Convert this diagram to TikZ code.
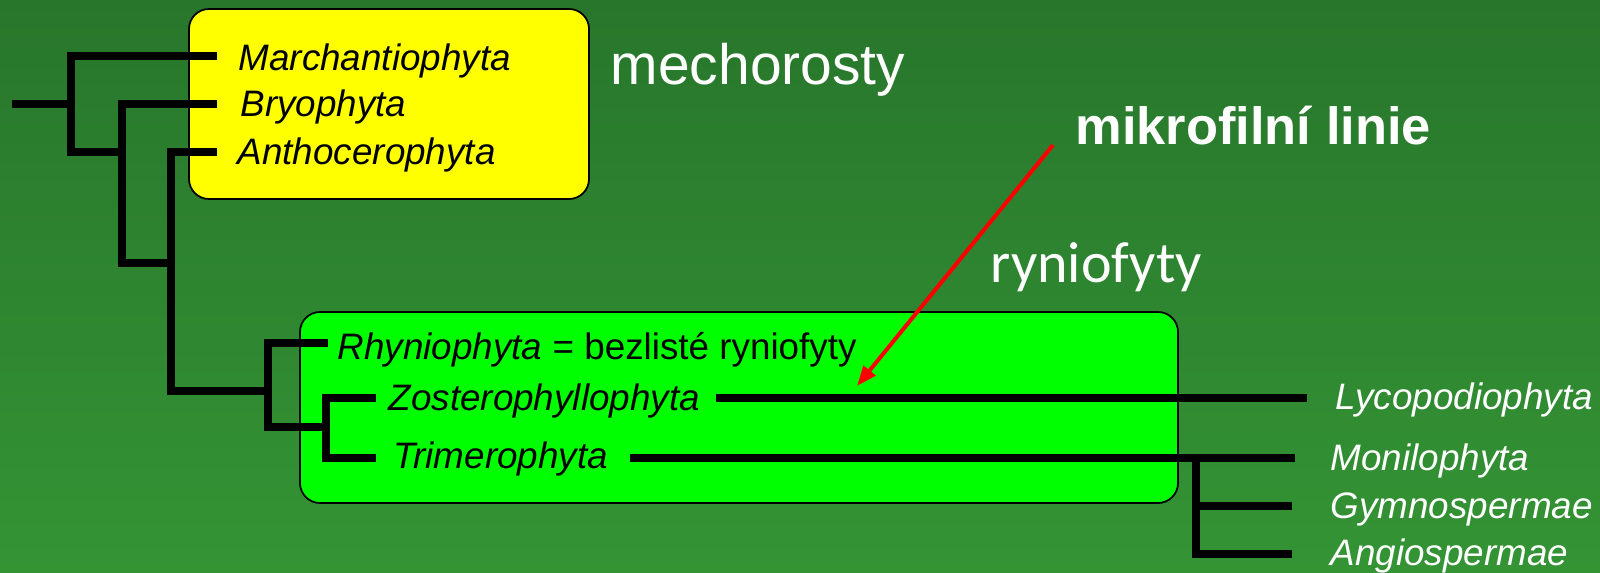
\documentclass[tikz,border=0pt]{standalone}
\usepackage{fontspec}
\setmainfont{Liberation Sans}
\newfontfamily\calibrifont{Carlito}
\usepackage{tikz}
\usetikzlibrary{arrows.meta}

\definecolor{bg_top}{RGB}{40,118,44}
\definecolor{bg_bottom}{RGB}{52,148,52}
\definecolor{moss_yellow}{RGB}{255,255,0}
\definecolor{rhynia_green}{RGB}{0,255,0}

\begin{document}
\begin{tikzpicture}[x=0.01cm, y=-0.01cm,
    taxon_node/.style={anchor=base west, inner sep=0pt, font=\fontsize{10.47}{12}\selectfont},
    side_node/.style={taxon_node, text=white, font=\fontsize{10.47}{12}\selectfont\itshape},
    group_box/.style={draw=black, line width=0.5pt, rounded corners=0.2cm},
    tree_line/.style={line width=0.075cm, line join=miter},
    red_arrow/.style={draw=red, line width=0.04cm, -{Triangle[length=0.2cm, width=0.15cm]}}]

    \useasboundingbox (0,0) rectangle (1600,573);
    \fill[top color=bg_top, bottom color=bg_bottom] (0,0) rectangle (1600,573);

    % boxes
    \filldraw[group_box, fill=moss_yellow] (189,9) rectangle (589,199);
    \filldraw[group_box, fill=rhynia_green] (300,312) rectangle (1178,503);

    % tree points
    \coordinate (1) at (12,104);
    \coordinate (2) at (71,104);
    \coordinate (3) at (71,56);
    \coordinate (4) at (217,56);
    \coordinate (5) at (71,152);
    \coordinate (6) at (122,152);
    \coordinate (7) at (122,104);
    \coordinate (8) at (217,104);
    \coordinate (9) at (122,263);
    \coordinate (10) at (171,263);
    \coordinate (11) at (171,152);
    \coordinate (12) at (217,152);
    \coordinate (13) at (171,391);
    \coordinate (14) at (268,391);
    \coordinate (15) at (268,343);
    \coordinate (16) at (328,343);
    \coordinate (17) at (268,427);
    \coordinate (18) at (326,427);
    \coordinate (19) at (326,398);
    \coordinate (20) at (376,398);
    \coordinate (21) at (326,458);
    \coordinate (22) at (376,458);
    \coordinate (23) at (716,398);
    \coordinate (24) at (1307,398);
    \coordinate (25) at (630,458);
    \coordinate (26) at (1295,458);
    \coordinate (27) at (1196,458);
    \coordinate (28) at (1196,554);
    \coordinate (29) at (1292,554);
    \coordinate (30) at (1196,506);
    \coordinate (31) at (1292,506);

    \node[taxon_node, font=\fontsize{10.47}{12}\selectfont\itshape] (32) at (238,71) {Marchantiophyta};
    \node[taxon_node, font=\fontsize{10.47}{12}\selectfont\itshape] (33) at (240,117) {Bryophyta};
    \node[taxon_node, font=\fontsize{10.47}{12}\selectfont\itshape] (34) at (237,165) {Anthocerophyta};
    \node[taxon_node] (35) at (337,359) {\textit{Rhyniophyta} = bezlisté ryniofyty};
    \node[taxon_node, font=\fontsize{10.47}{12}\selectfont\itshape] (36) at (388,410) {Zosterophyllophyta};
    \node[taxon_node, font=\fontsize{10.47}{12}\selectfont\itshape] (37) at (393,468) {Trimerophyta};
    \node[side_node] (38) at (1335,409) {Lycopodiophyta};
    \node[side_node] (39) at (1330,470) {Monilophyta};
    \node[side_node] (40) at (1330,518) {Gymnospermae};
    \node[side_node] (41) at (1330,565) {Angiospermae};

    \node[anchor=base west, inner sep=0pt, text=white, font=\fontsize{16.2}{19}\selectfont] (42) at (610,85) {mechorosty};
    \node[anchor=base west, inner sep=0pt, text=white, font=\fontsize{14.9}{18}\selectfont\bfseries] (43) at (1075,145) {mikrofilní linie};
    \node[anchor=base west, inner sep=0pt, text=white, font=\calibrifont\fontsize{16.5}{19}\selectfont] (44) at (990,282) {ryniofyty};

    \coordinate (45) at (1053,145);
    \coordinate (46) at (857,386);

    \draw[tree_line] (4) -- (3) -- (5) -- (6);
    \draw[tree_line] (1) -- (2);
    \draw[tree_line] (8) -- (7) -- (9) -- (10);
    \draw[tree_line] (12) -- (11) -- (13) -- (14);
    \draw[tree_line] (16) -- (15) -- (17) -- (18);
    \draw[tree_line] (20) -- (19) -- (21) -- (22);
    \draw[tree_line] (23) -- (24);
    \draw[tree_line] (25) -- (26);
    \draw[tree_line] (27) -- (28) -- (29);
    \draw[tree_line] (30) -- (31);
    \draw[red_arrow] (45) -- (46);

\end{tikzpicture}
\end{document}
